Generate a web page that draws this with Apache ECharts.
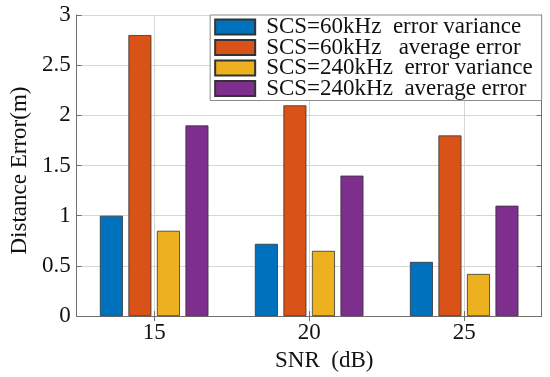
<!DOCTYPE html>
<html>
<head>
<meta charset="utf-8">
<script src="https://cdn.jsdelivr.net/npm/echarts@6/dist/echarts.min.js"></script>
<style>html,body{margin:0;padding:0;background:#fff;}#c{width:550px;height:377px;}</style>
</head>
<body>
<div id="c"></div>
<script>
const categories = ['15', '20', '25'];
const seriesNames = [
  'SCS=60kHz  error variance',
  'SCS=60kHz   average error',
  'SCS=240kHz  error variance',
  'SCS=240kHz  average error'
];
const var60 = [1.0, 0.72, 0.54];
const avg60 = [2.8, 2.1, 1.8];
const var240 = [0.85, 0.65, 0.42];
const avg240 = [1.9, 1.4, 1.1];
const yTicks = [0, 0.5, 1, 1.5, 2, 2.5, 3];
const colors = ['#0072BD', '#D95319', '#EDB120', '#7E2F8E'];

const FONT = "'Liberation Serif','Times New Roman',serif";
const FS = 23;
const axisColor = '#707070';
const gridColor = '#d6d6d6';
const values = [var60, avg60, var240, avg240];

const chart = echarts.init(document.getElementById('c'), null, {renderer: 'canvas'});
chart.setOption({
  animation: false,
  backgroundColor: '#fff',
  textStyle: {fontFamily: FONT},
  grid: {left: 70.7, right: 8.3, top: 15, bottom: 55.3, containLabel: false},
  legend: {
    orient: 'vertical',
    right: 8.3,
    top: 15,
    padding: [0.5, 9, 0.5, 4],
    itemWidth: 40,
    itemHeight: 15,
    itemGap: -2.5,
    icon: 'rect',
    backgroundColor: '#fff',
    borderColor: '#8a8a8a',
    borderWidth: 1,
    z: 10,
    textStyle: {fontFamily: FONT, fontSize: FS, color: '#111', padding: [0, 0, 0, 6]},
    data: seriesNames
  },
  xAxis: [{
    type: 'category',
    data: categories,
    name: 'SNR  (dB)',
    nameLocation: 'middle',
    nameGap: 25,
    nameTextStyle: {fontFamily: FONT, fontSize: FS, color: '#111', padding: [0, 0, 0, 30]},
    axisLine: {lineStyle: {color: axisColor, width: 1}},
    axisTick: {show: true, inside: true, alignWithLabel: true, length: 5, lineStyle: {color: axisColor}},
    axisLabel: {fontFamily: FONT, fontSize: FS, color: '#111', margin: 5},
    splitLine: {show: true, alignWithLabel: true, lineStyle: {color: gridColor, width: 1}}
  }, {
    type: 'category',
    data: categories,
    position: 'top',
    axisLine: {lineStyle: {color: axisColor, width: 1}},
    axisTick: {show: true, inside: true, alignWithLabel: true, length: 5, lineStyle: {color: axisColor}},
    axisLabel: {show: false},
    splitLine: {show: false}
  }],
  yAxis: [{
    type: 'value',
    min: 0, max: 3, interval: 0.5,
    name: 'Distance Error(m)',
    nameLocation: 'middle',
    nameGap: 42,
    nameRotate: 90,
    nameTextStyle: {fontFamily: FONT, fontSize: FS, color: '#111', padding: [0, 10, 0, 0]},
    axisLine: {show: true, lineStyle: {color: axisColor, width: 1}},
    axisTick: {show: true, inside: true, length: 5, lineStyle: {color: axisColor}},
    axisLabel: {fontFamily: FONT, fontSize: FS, color: '#111', margin: 6,
      formatter: v => yTicks.includes(v) ? String(v) : ''},
    splitLine: {show: true, lineStyle: {color: gridColor, width: 1}}
  }, {
    type: 'value',
    min: 0, max: 3, interval: 0.5,
    position: 'right',
    axisLine: {show: true, lineStyle: {color: axisColor, width: 1}},
    axisTick: {show: true, inside: true, length: 5, lineStyle: {color: axisColor}},
    axisLabel: {show: false},
    splitLine: {show: false}
  }],
  series: seriesNames.map((n, i) => ({
    name: n,
    type: 'bar',
    data: values[i],
    barWidth: 23,
    barGap: '24%',
    itemStyle: {color: colors[i], borderColor: '#333', borderWidth: 0.8}
  }))
});
</script>
</body>
</html>
